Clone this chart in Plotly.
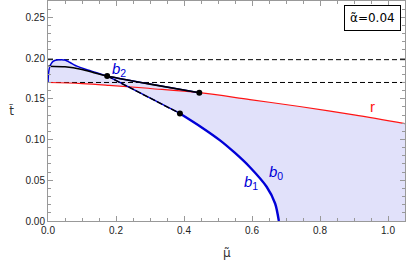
import numpy as np
import plotly.graph_objects as go

# ---- data ----
red_mu = [0.0, 0.1, 0.18, 0.3, 0.445, 0.594, 0.74, 0.9, 1.05]
red_t = [0.17, 0.1686, 0.1665, 0.1627, 0.1575, 0.149, 0.1405, 0.1302, 0.1195]

blue_top_mu = [0.0, 0.001, 0.003, 0.006, 0.01, 0.015, 0.022, 0.03, 0.04, 0.05, 0.065, 0.085, 0.11, 0.135, 0.174, 0.3, 0.445]
blue_top_t = [0.17, 0.178, 0.1855, 0.1905, 0.1935, 0.1958, 0.1972, 0.1979, 0.198, 0.1975, 0.1945, 0.190, 0.1862, 0.183, 0.178, 0.168, 0.1575]

black_mu = [0.0, 0.05, 0.1, 0.135, 0.174, 0.3, 0.445]
black_t = [0.190, 0.1893, 0.186, 0.182, 0.178, 0.168, 0.1575]

b1_mu = [0.174, 0.388]
b1_t = [0.178, 0.132]

b0_mu = [0.388, 0.45, 0.506, 0.55, 0.594, 0.643, 0.668, 0.679]
b0_t = [0.132, 0.1155, 0.099, 0.0835, 0.066, 0.042, 0.0215, 0.0]

hline_t = [0.198, 0.17]

dots_mu = [0.174, 0.388, 0.445]
dots_t = [0.178, 0.132, 0.1575]

x_range = [0, 1.05]
y_range = [0, 0.27]

# ---- shaded region polygon ----
grid = np.linspace(b1_mu[0], b1_mu[1], 400)
b1_line = np.interp(grid, b1_mu, b1_t)
red_line = np.interp(grid, red_mu, red_t)
idx = np.argmax(b1_line <= red_line)
cross_mu = grid[idx]
cross_t = red_line[idx]

poly_x, poly_y = [], []
poly_x += blue_top_mu; poly_y += blue_top_t
poly_x += [m for m in red_mu if m > blue_top_mu[-1]]
poly_y += [t for m, t in zip(red_mu, red_t) if m > blue_top_mu[-1]]
poly_x += [x_range[1]]; poly_y += [0]
poly_x += b0_mu[::-1]; poly_y += b0_t[::-1]
poly_x += [cross_mu]; poly_y += [cross_t]
poly_x += [m for m in red_mu[::-1] if m < cross_mu]
poly_y += [t for m, t in zip(red_mu[::-1], red_t[::-1]) if m < cross_mu]

BLUE = "rgb(0,0,215)"
RED = "rgb(255,20,20)"
fig = go.Figure()
fig.add_trace(go.Scatter(x=poly_x, y=poly_y, fill="toself", mode="none",
                         fillcolor="rgb(225,225,250)", hoverinfo="skip"))
for ht in hline_t:
    fig.add_trace(go.Scatter(x=x_range, y=[ht, ht], mode="lines",
                             line=dict(color="black", width=1, dash="5px,3px")))
fig.add_trace(go.Scatter(x=red_mu, y=red_t, mode="lines", line=dict(color=RED, width=1.1, shape="spline")))
fig.add_trace(go.Scatter(x=blue_top_mu, y=blue_top_t, mode="lines", line=dict(color=BLUE, width=1.5, shape="spline", smoothing=0.5)))
fig.add_trace(go.Scatter(x=black_mu, y=black_t, mode="lines", line=dict(color="black", width=1.6, shape="spline", smoothing=0.6)))
fig.add_trace(go.Scatter(x=b1_mu, y=b1_t, mode="lines", line=dict(color=BLUE, width=1.4)))
fig.add_trace(go.Scatter(x=b1_mu, y=b1_t, mode="lines", line=dict(color="black", width=1.4, dash="6px,2px")))
fig.add_trace(go.Scatter(x=b0_mu, y=b0_t, mode="lines", line=dict(color=BLUE, width=2.4, shape="spline", smoothing=0.8)))
fig.add_trace(go.Scatter(x=dots_mu, y=dots_t, mode="markers", marker=dict(color="black", size=6)))

labels = [
    ("<i>b</i><sub>2</sub>", 0.21, 0.186, BLUE),
    ("<i>b</i><sub>1</sub>", 0.597, 0.047, BLUE),
    ("<i>b</i><sub>0</sub>", 0.67, 0.059, BLUE),
    ("r", 0.953, 0.140, RED),
]
for txt, x, y, c in labels:
    fig.add_annotation(x=x, y=y, text=txt, showarrow=False, font=dict(color=c, size=15, family="Liberation Sans"))

fig.add_annotation(xref="paper", yref="paper", x=0.91, y=0.921, text="α̃=0.04", showarrow=False,
                   xanchor="center", yanchor="middle", bordercolor="black", borderwidth=1, borderpad=5,
                   bgcolor="white", font=dict(size=12, color="black", family="DejaVu Sans"))
fig.add_annotation(xref="paper", yref="paper", x=-0.115, y=0.5, text="t̃", showarrow=False,
                   font=dict(size=12, color="#333", family="DejaVu Sans"))
fig.add_annotation(xref="paper", yref="paper", x=0.502, y=-0.145, text="μ̃", showarrow=False,
                   yanchor="middle", font=dict(size=12, color="#333", family="DejaVu Sans"))

axis_common = dict(showgrid=False, zeroline=False, showline=True, linecolor="#999", linewidth=1,
                   mirror="ticks", ticks="inside", tickcolor="#999", ticklen=5,
                   tickfont=dict(size=10, color="#222", family="Liberation Sans"))
fig.update_xaxes(range=x_range, dtick=0.2, tickformat=".1f",
                 minor=dict(dtick=0.05, ticks="inside", ticklen=3, tickcolor="#999"), **axis_common)
fig.update_yaxes(range=y_range, dtick=0.05, tickformat=".2f",
                 minor=dict(dtick=0.01, ticks="inside", ticklen=3, tickcolor="#999"), **axis_common)
fig.update_layout(width=407, height=262, margin=dict(l=48, r=2, t=1, b=41),
                  plot_bgcolor="white", paper_bgcolor="white", showlegend=False)
fig.write_html("out.html", config={"displayModeBar": False},
               post_script="document.body.style.margin='0';document.body.style.padding='0';")
